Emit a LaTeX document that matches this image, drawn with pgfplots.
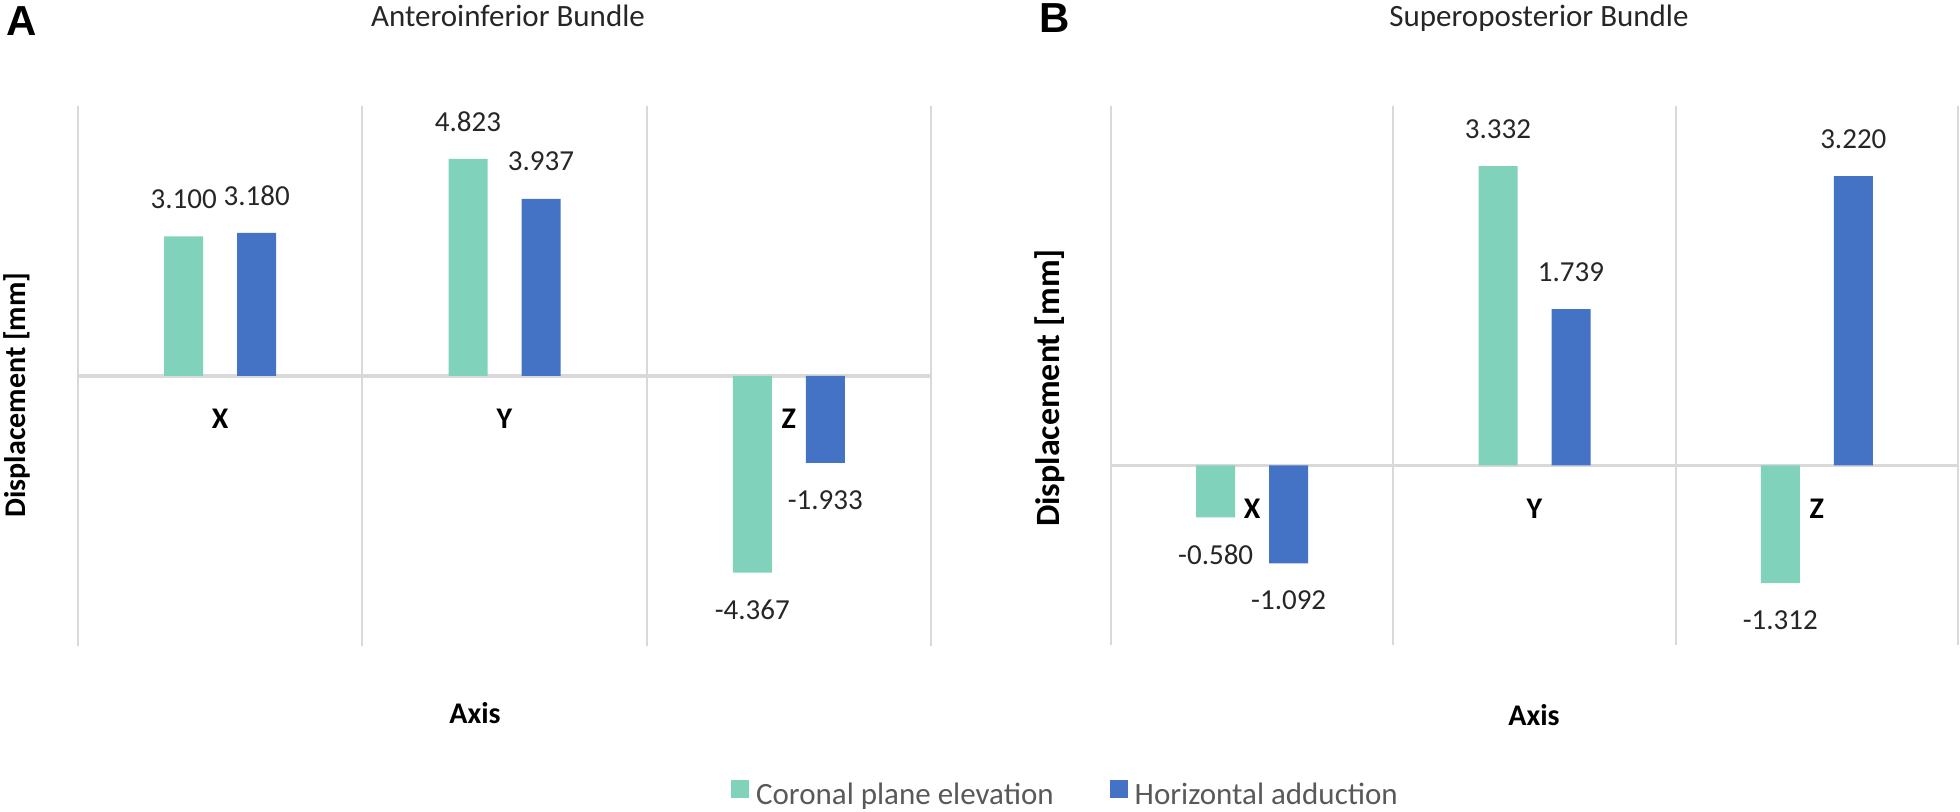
\documentclass[border=0pt]{standalone}
\usepackage{fontspec}
\setmainfont{Carlito}
\newfontfamily\arialf{Liberation Sans}
\usepackage{pgfplots}
\pgfplotsset{compat=1.18}
\definecolor{cgreen}{HTML}{80D3BA}
\definecolor{cblue}{HTML}{4472C4}
\definecolor{gridgray}{HTML}{D9D9D9}
\definecolor{labtxt}{HTML}{262626}
\definecolor{legtxt}{HTML}{595959}

\tikzset{
  catlab/.style={anchor=north, inner sep=0pt, yshift=-16.5bp, font=\fontsize{15bp}{17bp}\selectfont\bfseries, text=black},
}
\pgfplotsset{
  panel/.style={
    scale only axis,
    anchor=south west,
    xmin=-0.5, xmax=2.5,
    xtick={-0.5,0.5,1.5,2.5},
    xticklabels={},
    xmajorgrids=true,
    major grid style={draw=gridgray, line width=1bp},
    ytick=\empty,
    extra y ticks={0},
    extra y tick labels={},
    extra y tick style={ymajorgrids=true, major grid style={draw=gridgray, line width=1.6bp}},
    axis line style={draw=none},
    tick style={draw=none},
    ybar=17bp,
    bar width=19.5bp,
    clip=false,
    nodes near coords={\pgfmathprintnumber[fixed,precision=3,zerofill,assume math mode=true]{\pgfplotspointmeta}},
    nodes near coords align=vertical,
    every node near coord/.append style={font=\fontsize{14.5bp}{16bp}\selectfont, text=labtxt, inner ysep=13.6bp, inner xsep=0pt},
  },
}

\begin{document}
\begin{tikzpicture}
\path[use as bounding box] (0,0) rectangle (980bp,406bp);

% Panel A
\begin{axis}[panel, at={(39bp,83bp)}, width=426.5bp, height=270bp, ymin=-6, ymax=6]
\addplot[fill=cgreen, draw=none] coordinates {(0,3.100) (1,4.823) (2,-4.367)};
\addplot[fill=cblue, draw=none] coordinates {(0,3.180) (1,3.937) (2,-1.933)};
\node[catlab] at (axis cs:0,0) {X};
\node[catlab] at (axis cs:1,0) {Y};
\node[catlab] at (axis cs:2,0) {Z};
\end{axis}

% Panel B
\begin{axis}[panel, at={(555.5bp,83.5bp)}, width=423.5bp, height=269.5bp, ymin=-2, ymax=4,
  legend columns=2,
  legend style={at={(-0.0549,-0.278)}, anchor=center, draw=none, fill=none,
    font=\fontsize{15.5bp}{17bp}\selectfont, text=legtxt,
    nodes={inner xsep=0pt},
    /tikz/every odd column/.append style={column sep=3.5bp},
    /tikz/every even column/.append style={column sep=28bp}},
  ]
\addplot[fill=cgreen, draw=none, legend image code/.code={\fill[cgreen] (0bp,-1.5bp) rectangle (9bp,7.5bp);}] coordinates {(0,-0.580) (1,3.332) (2,-1.312)};
\addlegendentry{Coronal plane elevation}
\addplot[fill=cblue, draw=none, legend image code/.code={\fill[cblue] (0bp,-1.5bp) rectangle (9bp,7.5bp);}] coordinates {(0,-1.092) (1,1.739) (2,3.220)};
\addlegendentry{Horizontal adduction}
\node[catlab] at (axis cs:0,0) {X};
\node[catlab] at (axis cs:1,0) {Y};
\node[catlab] at (axis cs:2,0) {Z};
\end{axis}

% Titles
\node[anchor=base, inner sep=0pt, font=\fontsize{15.5bp}{17bp}\selectfont, text=labtxt] at (254bp,392.5bp) {Anteroinferior Bundle};
\node[anchor=base, inner sep=0pt, font=\fontsize{15.5bp}{17bp}\selectfont, text=labtxt] at (769.5bp,392.5bp) {Superoposterior Bundle};

% Panel letters
\node[anchor=base west, inner sep=0pt, font=\arialf\bfseries\fontsize{21bp}{24bp}\selectfont] at (3bp,388bp) {A};
\node[anchor=base west, inner sep=0pt, font=\arialf\bfseries\fontsize{21bp}{24bp}\selectfont] at (519.5bp,389.5bp) {B};

% Y labels
\node[rotate=90, inner sep=0pt, font=\bfseries\fontsize{15bp}{17bp}\selectfont] at (8.5bp,208.5bp) {Displacement [mm]};
\node[rotate=90, inner sep=0pt, font=\bfseries\fontsize{17bp}{19bp}\selectfont] at (525bp,212bp) {Displacement [mm]};

% X labels
\node[anchor=base, inner sep=0pt, font=\fontsize{15bp}{17bp}\selectfont\bfseries] at (237.5bp,44bp) {Axis};
\node[anchor=base, inner sep=0pt, font=\fontsize{15bp}{17bp}\selectfont\bfseries] at (767bp,43bp) {Axis};
\end{tikzpicture}
\end{document}
